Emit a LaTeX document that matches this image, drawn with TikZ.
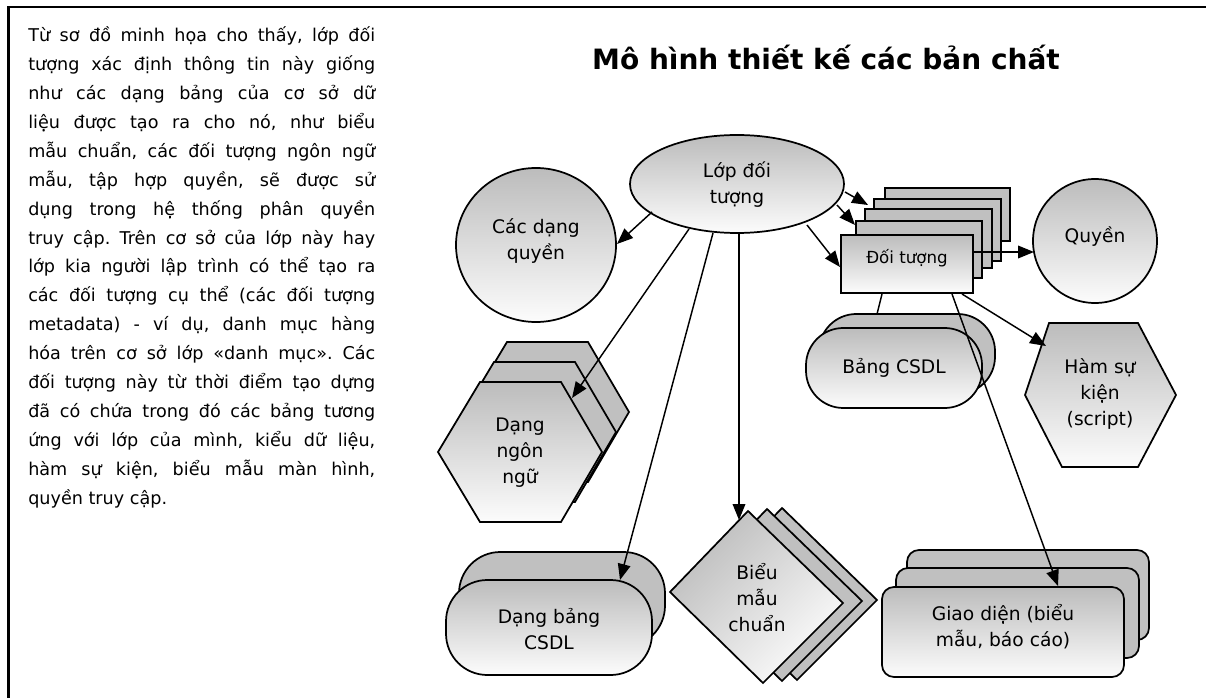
\documentclass[tikz,border=0pt]{standalone}
\usepackage{fontspec}
\setmainfont{DejaVu Sans}
\usetikzlibrary{arrows.meta}
\definecolor{backgray}{RGB}{192,192,192}
\definecolor{gtop}{RGB}{188,188,188}
\definecolor{gbot}{RGB}{252,252,252}
\tikzset{
  shp/.style={draw=black, line width=1.3pt},
  backshp/.style={shp, fill=backgray},
  frontshp/.style={shp, top color=gtop, bottom color=gbot},
  diagshp/.style={shp, top color=gtop, bottom color=gbot, shading angle=45},
  lbl/.style={align=center, inner sep=0pt, font=\fontsize{14pt}{19.5pt}\selectfont},
  smalllbl/.style={align=center, inner sep=0pt, font=\fontsize{12.5pt}{16pt}\selectfont},
  arr/.style={line width=1.1pt, -{Triangle[length=12pt,width=9.5pt]}},
  link/.style={line width=1.1pt},
}
\begin{document}
\begin{tikzpicture}[x=0.75pt,y=-0.75pt]
\useasboundingbox (0,0) rectangle (1206,698);

% frame
\draw[line width=1.6pt] (8.5,698) -- (8.5,7) -- (1206,7);

% explanatory paragraph
\node[anchor=base west, inner sep=0pt] (body) at (28,41.5) {\parbox[t]{260.25pt}{%
\fontsize{13.2pt}{21.7pt}\selectfont\frenchspacing\tolerance=10000\emergencystretch=20pt
Từ sơ đồ minh họa cho thấy, lớp đối\linebreak
tượng xác định thông tin này giống\linebreak
như các dạng bảng của cơ sở dữ\linebreak
liệu được tạo ra cho nó, như biểu\linebreak
mẫu chuẩn, các đối tượng ngôn ngữ\linebreak
mẫu, tập hợp quyền, sẽ được sử\linebreak
dụng trong hệ thống phân quyền\linebreak
truy cập. Trên cơ sở của lớp này hay\linebreak
lớp kia người lập trình có thể tạo ra\linebreak
các đối tượng cụ thể (các đối tượng\linebreak
metadata) - ví dụ, danh mục hàng\linebreak
hóa trên cơ sở lớp «danh mục». Các\linebreak
đối tượng này từ thời điểm tạo dựng\linebreak
đã có chứa trong đó các bảng tương\linebreak
ứng với lớp của mình, kiểu dữ liệu,\linebreak
hàm sự kiện, biểu mẫu màn hình,\linebreak
quyền truy cập.}};

% title
\node[anchor=base, inner sep=0pt, font=\bfseries\fontsize{21pt}{25pt}\selectfont] (title) at (826,70) {Mô hình thiết kế các bản chất};

% ---- shapes ----
% class ellipse
\path[frontshp] (737,184) ellipse [x radius=107, y radius=49];
\node[lbl] (lop) at (737,185) {Lớp đối\\tượng};

% permission kinds
\path[frontshp] (536,245) ellipse [x radius=80, y radius=77];
\node[lbl] (cacdang) at (536,241) {Các dạng\\quyền};

% permissions
\path[frontshp] (1095,241) circle [radius=62];
\node[lbl] (quyen) at (1095,237) {Quyền};

% objects (stack)
\path[backshp] (885,188) rectangle (1010,241);
\path[backshp] (874,199) rectangle (1001,261);
\path[backshp] (865,209) rectangle (992,268);
\path[backshp] (856,221) rectangle (982,278);
\path[frontshp] (841,235) rectangle (973,293);
\node[smalllbl] (doituong) at (907,258) {Đối tượng};

% database tables (stack)
\path[backshp, rounded corners=28pt] (819,314) rectangle (995,394);
\path[frontshp, rounded corners=28pt] (806,328) rectangle (982,408);
\node[lbl] (bang) at (894,368) {Bảng CSDL};

% event functions
\path[frontshp] (1025,395) -- (1049,323) -- (1138,323) -- (1176,395) -- (1138,467) -- (1062,467) -- cycle;
\node[lbl] (ham) at (1100,394) {Hàm sự\\kiện\\(script)};

% language forms (stack of hexagons)
\path[backshp] (465,412) -- (507,342) -- (588,342) -- (629,412) -- (588,482) -- (507,482) -- cycle;
\path[backshp] (452,432) -- (494,362) -- (575,362) -- (616,432) -- (575,502) -- (494,502) -- cycle;
\path[frontshp] (438,452) -- (480,382) -- (561,382) -- (602,452) -- (561,522) -- (480,522) -- cycle;
\node[lbl] (ngonngu) at (520,453) {Dạng\\ngôn\\ngữ};

% table forms (stack)
\path[backshp, rounded corners=31pt] (459,552) rectangle (665,647);
\path[frontshp, rounded corners=31pt] (446,580) rectangle (652,675);
\node[lbl] (dangbang) at (549,629) {Dạng bảng\\CSDL};

% standard forms (stack of diamonds)
\path[backshp] (704,589) -- (782,508) -- (877,600) -- (797,680) -- cycle;
\path[backshp] (689,590) -- (767,509) -- (862,601) -- (782,681) -- cycle;
\path[diagshp] (670,592) -- (748,511) -- (843,603) -- (763,683) -- cycle;
\node[lbl] (bieumau) at (757,598) {Biểu\\mẫu\\chuẩn};

% interfaces (stack)
\path[backshp, rounded corners=9pt] (907,550) rectangle (1149,640);
\path[backshp, rounded corners=9pt] (896,568) rectangle (1139,658);
\path[frontshp, rounded corners=9pt] (882,587) rectangle (1124,677);
\node[lbl] (giaodien) at (1003,627) {Giao diện (biểu\\mẫu, báo cáo)};

% ---- connector end points ----
\coordinate (lopA) at (652,212);   \coordinate (cacdangIn) at (617,244);
\coordinate (lopB) at (689,229);   \coordinate (ngonnguIn) at (572,398);
\coordinate (lopC) at (713,233);   \coordinate (dangbangIn) at (620,580);
\coordinate (lopD) at (739,233);   \coordinate (bieumauIn) at (739,520);
\coordinate (lopE) at (845,192);   \coordinate (dtIn1) at (868,205);
\coordinate (lopF) at (837,205);   \coordinate (dtIn2) at (855,225);
\coordinate (lopG) at (807,225);   \coordinate (dtIn3) at (840,267);
\coordinate (dtR) at (973,252);    \coordinate (quyenIn) at (1034,252);
\coordinate (dtB1) at (882,294);   \coordinate (bangIn) at (877,314);
\coordinate (dtB2) at (952,294);   \coordinate (giaodienIn) at (1058,586);
\coordinate (dtB3) at (962,294);   \coordinate (hamIn) at (1046,346);

% ---- connectors ----
\draw[arr] (lopA) -- (cacdangIn);
\draw[arr] (lopB) -- (ngonnguIn);
\draw[arr] (lopC) -- (dangbangIn);
\draw[arr] (lopD) -- (bieumauIn);
\draw[arr] (lopE) -- (dtIn1);
\draw[arr] (lopF) -- (dtIn2);
\draw[arr] (lopG) -- (dtIn3);
\draw[arr] (dtR) -- (quyenIn);
\draw[link] (dtB1) -- (bangIn);
\draw[arr] (dtB2) -- (giaodienIn);
\draw[arr] (dtB3) -- (hamIn);
\end{tikzpicture}
\end{document}
